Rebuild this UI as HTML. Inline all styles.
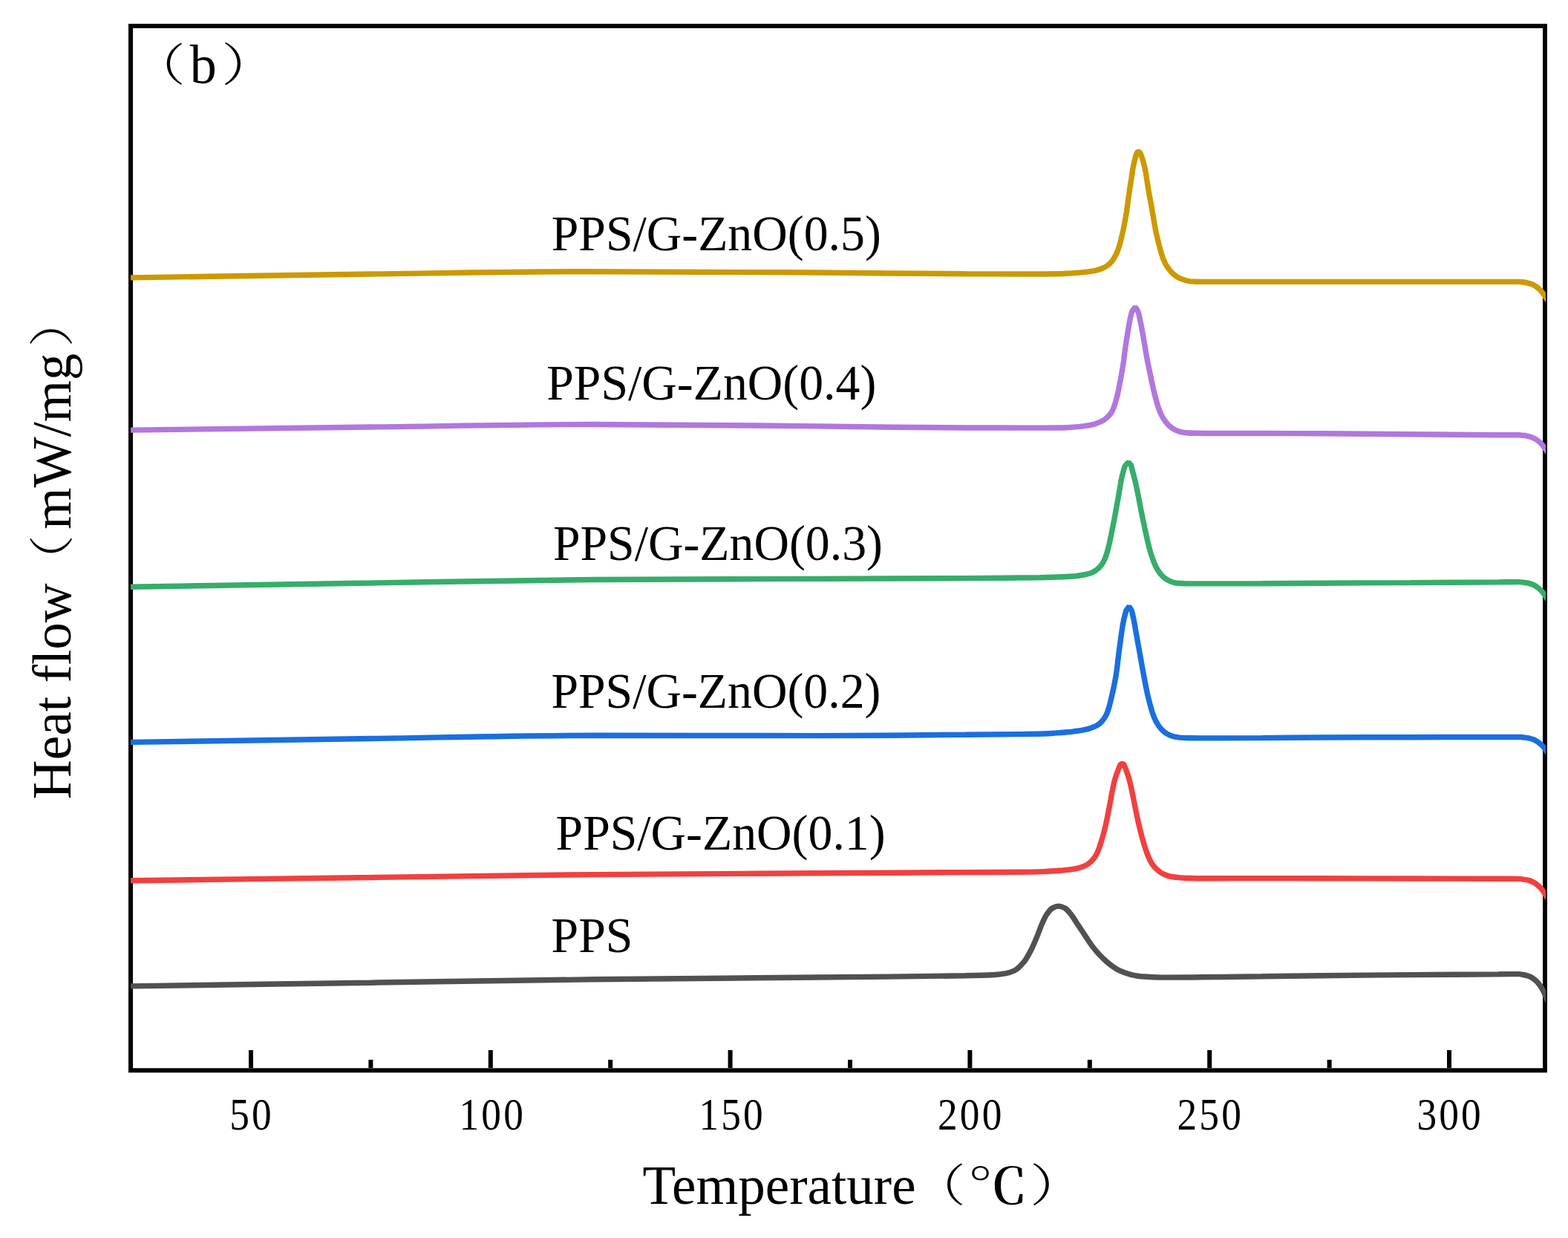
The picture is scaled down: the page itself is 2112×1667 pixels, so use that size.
<!DOCTYPE html>
<html lang="en"><head><meta charset="utf-8"><title>DSC heat flow curves</title>
<style>
html,body{margin:0;padding:0;background:#fff}
body{width:2112px;height:1667px;overflow:hidden}
svg{display:block}
text{fill:#000}
</style></head><body>
<svg xmlns="http://www.w3.org/2000/svg" width="2112" height="1667" viewBox="0 0 2112 1667">
<rect width="2112" height="1667" fill="#fff"/>
<rect x="176" y="35" width="1905" height="1406.3" fill="none" stroke="#000" stroke-width="6"/>
<path d="M338.0 1438V1414M660.8 1438V1414M983.6 1438V1414M1306.4 1438V1414M1629.2 1438V1414M1952.0 1438V1414M499.4 1438V1427M822.2 1438V1427M1145.0 1438V1427M1467.8 1438V1427M1790.6 1438V1427" stroke="#000" stroke-width="6" fill="none"/>
<clipPath id="plot"><rect x="176" y="38" width="1906" height="1400"/></clipPath>
<g fill="none" stroke-width="7.4" stroke-linejoin="bevel" stroke-linecap="butt" clip-path="url(#plot)">
<path stroke="#515151" d="M168.0 1328.0C170.7 1328.0 173.3 1327.9 176.0 1327.9C284.0 1326.3 392.0 1324.8 500.0 1323.2C600.0 1321.7 700.0 1319.9 800.0 1318.8C900.0 1317.7 1000.0 1317.0 1100.0 1316.0C1166.7 1315.3 1233.3 1315.0 1300.0 1313.8C1313.3 1313.6 1326.7 1313.3 1340.0 1312.5C1345.0 1312.2 1350.0 1311.5 1355.0 1310.6C1358.8 1309.9 1362.5 1308.8 1366.3 1307.0C1370.7 1304.9 1375.1 1300.2 1379.5 1294.9C1382.7 1291.1 1385.9 1284.9 1389.0 1278.8C1391.5 1273.9 1394.1 1267.8 1396.6 1261.7C1398.8 1256.4 1401.0 1249.7 1403.2 1244.7C1405.4 1239.7 1407.6 1234.6 1409.8 1231.4C1412.4 1227.8 1414.9 1224.2 1417.4 1222.9C1420.3 1221.4 1423.1 1220.1 1425.9 1220.1C1428.8 1220.1 1431.6 1221.5 1434.5 1222.9C1437.0 1224.2 1439.5 1227.5 1442.0 1230.5C1445.2 1234.3 1448.4 1240.0 1451.5 1244.7C1454.7 1249.4 1457.8 1254.2 1461.0 1258.9C1464.1 1263.6 1467.3 1268.9 1470.5 1273.1C1473.6 1277.3 1476.8 1281.0 1479.9 1284.5C1483.1 1287.9 1486.2 1291.1 1489.4 1293.9C1492.6 1296.7 1495.7 1299.4 1498.9 1301.5C1502.0 1303.7 1505.2 1305.8 1508.3 1307.2C1512.8 1309.2 1517.2 1310.8 1521.6 1311.9C1526.6 1313.2 1531.7 1314.4 1536.7 1314.8C1546.2 1315.5 1555.7 1316.1 1565.2 1316.1C1610.1 1316.1 1655.1 1315.3 1700.0 1314.8C1726.3 1314.5 1752.7 1314.0 1779.0 1313.7C1819.3 1313.2 1859.7 1312.9 1900.0 1312.6C1939.5 1312.3 1979.1 1312.1 2018.6 1311.8C2027.7 1311.7 2036.9 1311.6 2046.0 1311.6C2048.0 1311.6 2050.0 1312.1 2052.0 1312.5C2054.0 1312.9 2056.0 1313.4 2058.0 1314.0C2059.8 1314.6 2061.7 1315.4 2063.5 1316.5C2065.3 1317.5 2067.0 1318.9 2068.8 1320.6C2070.6 1322.2 2072.3 1324.3 2074.1 1326.7C2075.5 1328.7 2077.0 1331.1 2078.4 1333.8C2079.5 1335.9 2080.7 1338.4 2081.8 1341.0C2083.2 1344.2 2084.6 1347.8 2086.0 1351.6C2087.3 1355.2 2088.7 1359.0 2090.0 1363.0"/>
<path stroke="#F14040" d="M168.0 1185.9C170.7 1185.9 173.3 1185.8 176.0 1185.8C284.0 1184.4 392.0 1182.9 500.0 1181.5C600.0 1180.2 700.0 1178.4 800.0 1177.6C900.0 1176.8 1000.0 1176.4 1100.0 1175.8C1166.7 1175.4 1233.3 1175.0 1300.0 1174.6C1324.2 1174.5 1348.3 1174.4 1372.5 1174.2C1383.9 1174.2 1395.2 1174.0 1406.6 1173.6C1410.9 1173.5 1415.1 1173.1 1419.4 1172.8C1423.2 1172.6 1427.0 1172.3 1430.8 1172.0C1434.3 1171.6 1437.9 1171.3 1441.4 1170.8C1444.4 1170.4 1447.4 1170.0 1450.4 1169.3C1452.8 1168.8 1455.3 1168.2 1457.8 1167.3C1459.8 1166.6 1461.9 1165.6 1464.0 1164.4C1465.7 1163.4 1467.4 1162.1 1469.1 1160.6C1470.5 1159.3 1472.0 1157.7 1473.4 1155.8C1474.7 1154.2 1475.9 1152.2 1477.2 1149.8C1478.3 1147.5 1479.5 1144.4 1480.7 1141.2C1481.8 1138.1 1483.0 1134.4 1484.1 1130.6C1485.2 1127.1 1486.2 1123.3 1487.3 1119.2C1488.2 1115.6 1489.2 1111.5 1490.1 1107.2C1491.1 1102.9 1492.0 1098.0 1493.0 1093.1C1494.0 1087.9 1495.0 1082.2 1496.0 1076.8C1496.9 1071.7 1497.9 1066.3 1498.9 1061.7C1499.7 1057.8 1500.5 1053.9 1501.3 1051.0C1502.3 1047.1 1503.4 1044.2 1504.4 1041.3C1506.1 1036.5 1507.9 1032.2 1509.6 1028.7L1513.4 1028.7C1515.1 1032.2 1516.7 1036.6 1518.4 1041.3C1519.4 1044.2 1520.4 1047.3 1521.4 1051.0C1522.2 1054.0 1523.1 1057.9 1523.9 1061.7C1524.9 1066.4 1526.0 1071.7 1527.0 1076.8C1528.0 1081.7 1529.0 1087.0 1530.0 1091.9C1530.8 1095.8 1531.6 1099.7 1532.4 1103.4C1533.2 1107.2 1534.1 1110.8 1534.9 1114.2C1535.9 1118.2 1536.8 1122.0 1537.8 1125.6C1538.8 1129.6 1539.9 1133.4 1541.0 1136.9C1542.2 1140.7 1543.3 1144.4 1544.5 1147.6C1545.7 1150.8 1546.9 1153.9 1548.0 1156.4C1549.3 1159.1 1550.6 1161.4 1551.9 1163.3C1553.5 1165.6 1555.1 1167.5 1556.7 1169.2C1558.5 1171.0 1560.3 1172.7 1562.2 1174.0C1564.3 1175.4 1566.3 1176.6 1568.4 1177.5C1570.7 1178.5 1573.0 1179.3 1575.2 1179.8C1578.0 1180.4 1580.8 1180.9 1583.5 1181.2C1587.4 1181.7 1591.4 1182.1 1595.3 1182.2C1606.5 1182.5 1617.7 1182.7 1628.9 1182.7C1652.6 1182.7 1676.3 1182.6 1700.0 1182.6C1726.3 1182.6 1752.7 1182.7 1779.0 1182.7C1819.3 1182.8 1859.7 1182.9 1900.0 1183.0C1939.3 1183.1 1978.7 1183.2 2018.0 1183.3C2027.3 1183.3 2036.7 1183.3 2046.0 1183.4C2048.0 1183.4 2050.0 1183.8 2052.0 1184.1C2054.0 1184.3 2056.0 1184.7 2058.0 1185.2C2059.8 1185.6 2061.7 1186.2 2063.5 1187.0C2065.3 1187.7 2067.0 1188.8 2068.8 1190.0C2070.6 1191.3 2072.3 1192.8 2074.1 1194.6C2075.5 1196.1 2077.0 1197.9 2078.4 1199.9C2079.5 1201.4 2080.7 1203.3 2081.8 1205.2C2083.2 1207.5 2084.6 1209.9 2086.0 1212.4C2087.3 1214.7 2088.7 1217.1 2090.0 1219.6"/>
<path stroke="#1A6FDF" d="M168.0 999.5C170.7 999.5 173.3 999.4 176.0 999.4C284.0 997.8 392.0 996.1 500.0 994.5C600.0 993.0 700.0 990.3 800.0 990.3C900.0 990.3 1000.0 990.6 1100.0 990.6C1166.7 990.6 1233.3 989.9 1300.0 989.3C1326.2 989.1 1352.4 988.8 1378.6 988.5C1389.9 988.3 1401.1 988.1 1412.4 987.7C1416.2 987.6 1419.9 987.2 1423.7 986.9C1427.5 986.7 1431.3 986.4 1435.1 986.0C1438.9 985.7 1442.7 985.3 1446.5 984.8C1450.0 984.4 1453.6 983.9 1457.1 983.3C1460.1 982.8 1463.2 982.2 1466.2 981.4C1468.7 980.7 1471.3 979.8 1473.8 978.7C1476.0 977.8 1478.1 976.5 1480.2 975.0C1482.0 973.7 1483.7 972.0 1485.4 969.9C1486.7 968.4 1488.0 966.5 1489.3 964.1C1490.3 962.2 1491.3 959.7 1492.3 956.9C1493.3 954.2 1494.3 950.6 1495.2 946.9C1496.1 943.5 1497.0 939.5 1497.9 935.6C1498.8 932.0 1499.6 928.2 1500.4 924.2C1501.2 920.3 1502.0 916.4 1502.8 911.7C1503.4 907.9 1504.0 903.8 1504.7 898.9C1505.1 895.6 1505.5 891.4 1506.0 887.8C1506.4 884.2 1506.8 880.5 1507.2 877.2C1507.7 873.1 1508.3 869.6 1508.8 865.8C1509.3 862.1 1509.8 858.0 1510.3 854.5C1510.9 850.4 1511.5 846.4 1512.0 843.1C1512.8 838.9 1513.5 835.3 1514.2 832.1C1515.1 828.3 1516.0 824.8 1516.9 822.0L1521.0 816.5L1524.2 822.0C1525.0 825.0 1525.8 828.4 1526.6 832.1C1527.3 835.4 1528.0 839.2 1528.7 843.1C1529.3 846.7 1530.0 850.8 1530.7 854.5C1531.3 858.4 1532.0 862.0 1532.7 865.8C1533.4 869.6 1534.1 873.3 1534.8 877.2C1535.4 880.7 1536.0 884.3 1536.7 887.8C1537.3 891.5 1538.0 895.2 1538.6 898.9C1539.4 903.2 1540.2 907.6 1541.0 911.7C1541.8 916.0 1542.6 920.3 1543.4 924.2C1544.2 928.2 1545.0 932.0 1545.8 935.6C1546.7 939.6 1547.7 943.4 1548.6 946.9C1549.6 950.7 1550.6 954.4 1551.6 957.6C1552.7 960.9 1553.7 964.0 1554.8 966.5C1556.1 969.5 1557.3 972.0 1558.6 974.0C1560.1 976.6 1561.7 978.9 1563.2 980.6C1565.1 982.8 1566.9 984.6 1568.8 986.0C1570.8 987.5 1572.8 988.8 1574.9 989.7C1577.0 990.6 1579.1 991.4 1581.3 991.9C1583.8 992.4 1586.3 992.9 1588.8 993.1C1592.9 993.4 1597.0 993.7 1601.1 993.7C1612.2 993.8 1623.4 993.9 1634.5 993.9C1656.4 993.9 1678.2 993.7 1700.0 993.6C1726.3 993.5 1752.7 993.1 1779.0 993.0C1819.3 992.8 1859.7 992.8 1900.0 992.7C1939.3 992.6 1978.7 992.5 2018.0 992.5C2028.0 992.5 2038.0 992.5 2048.0 992.5C2050.0 992.5 2052.0 992.8 2054.0 993.1C2056.0 993.4 2058.0 993.7 2060.0 994.1C2061.8 994.6 2063.7 995.1 2065.5 995.8C2067.3 996.5 2069.0 997.5 2070.8 998.6C2072.6 999.8 2074.3 1001.2 2076.1 1002.9C2077.5 1004.2 2079.0 1005.9 2080.4 1007.7C2081.5 1009.1 2082.7 1010.9 2083.8 1012.6C2085.2 1014.7 2086.6 1017.0 2088.0 1019.2C2089.3 1021.4 2090.7 1023.6 2092.0 1025.9"/>
<path stroke="#37AD6B" d="M168.0 790.4C170.7 790.4 173.3 790.3 176.0 790.3C284.0 788.5 392.0 786.7 500.0 785.0C600.0 783.4 700.0 781.1 800.0 780.5C900.0 779.9 1000.0 779.8 1100.0 779.4C1166.7 779.1 1233.3 779.0 1300.0 778.6C1333.3 778.4 1366.7 778.2 1400.0 777.7C1410.7 777.5 1421.4 777.2 1432.1 776.7C1437.6 776.5 1443.0 776.2 1448.5 775.7C1451.2 775.4 1454.0 775.0 1456.7 774.5C1459.2 774.1 1461.7 773.7 1464.1 773.1C1466.3 772.6 1468.4 772.0 1470.6 771.1C1472.4 770.3 1474.2 769.2 1476.1 767.9C1477.7 766.9 1479.2 765.5 1480.8 764.0C1482.1 762.6 1483.4 761.1 1484.7 759.1C1485.8 757.4 1486.9 755.3 1488.1 752.7C1489.1 750.4 1490.1 747.4 1491.1 744.1C1492.0 741.0 1493.0 737.3 1493.9 733.4C1494.7 729.8 1495.6 725.4 1496.5 721.3C1497.2 717.7 1497.9 713.9 1498.7 710.2C1499.3 707.0 1499.9 704.0 1500.6 700.7C1501.4 696.7 1502.2 692.5 1502.9 688.2C1503.9 682.9 1504.9 677.4 1505.9 671.8C1506.8 666.9 1507.6 661.7 1508.5 656.7C1509.1 653.1 1509.7 649.0 1510.3 646.0C1511.0 642.6 1511.7 639.8 1512.4 637.2C1513.3 633.5 1514.3 630.1 1515.3 627.3L1520.0 622.4L1523.4 626.3C1524.3 629.8 1525.3 633.3 1526.2 637.0C1527.0 639.9 1527.8 642.8 1528.5 646.0C1529.4 649.3 1530.2 652.9 1531.0 656.7C1532.0 661.3 1533.0 666.7 1534.0 671.8C1535.0 677.2 1536.1 682.9 1537.1 688.2C1538.0 692.5 1538.8 696.7 1539.7 700.7C1540.4 704.0 1541.0 707.0 1541.7 710.2C1542.5 713.9 1543.3 717.7 1544.1 721.3C1545.0 725.5 1546.0 729.7 1546.9 733.4C1547.9 737.5 1549.0 741.4 1550.0 744.8C1551.2 748.8 1552.5 752.5 1553.7 755.6C1555.0 759.0 1556.4 762.2 1557.7 764.6C1559.2 767.3 1560.6 769.6 1562.1 771.4C1563.7 773.5 1565.3 775.3 1566.9 776.8C1568.7 778.4 1570.5 779.8 1572.3 780.8C1574.2 781.9 1576.2 782.7 1578.2 783.4C1580.1 784.1 1582.0 784.7 1584.0 785.0C1588.0 785.4 1591.9 785.7 1595.8 785.8C1608.0 785.9 1620.2 785.9 1632.4 785.9C1655.0 785.9 1677.5 785.8 1700.0 785.7C1726.3 785.6 1752.7 785.3 1779.0 785.2C1819.3 785.0 1859.7 784.8 1900.0 784.6C1939.3 784.4 1978.7 784.2 2018.0 783.9C2027.3 783.8 2036.7 783.6 2046.0 783.6C2048.0 783.6 2050.0 783.9 2052.0 784.2C2054.0 784.4 2056.0 784.8 2058.0 785.2C2059.8 785.6 2061.7 786.1 2063.5 786.8C2065.3 787.5 2067.0 788.4 2068.8 789.5C2070.6 790.6 2072.3 792.0 2074.1 793.6C2075.5 794.9 2077.0 796.5 2078.4 798.2C2079.5 799.6 2080.7 801.3 2081.8 803.0C2083.2 805.0 2084.6 807.2 2086.0 809.4C2087.3 811.5 2088.7 813.6 2090.0 815.8"/>
<path stroke="#B177DE" d="M168.0 579.2C170.7 579.2 173.3 579.1 176.0 579.1C284.0 577.7 392.0 576.3 500.0 575.0C600.0 573.8 700.0 571.5 800.0 571.5C900.0 571.5 1000.0 573.0 1100.0 573.9C1166.7 574.5 1233.3 575.9 1300.0 576.0C1328.7 576.0 1357.3 576.1 1386.0 576.1C1398.9 576.1 1411.7 576.1 1424.6 576.0C1428.9 576.0 1433.1 575.9 1437.4 575.7C1441.2 575.6 1445.0 575.3 1448.8 574.9C1452.3 574.6 1455.9 574.3 1459.4 573.8C1462.4 573.4 1465.4 572.9 1468.4 572.3C1470.9 571.9 1473.4 571.3 1475.9 570.5C1478.2 569.8 1480.5 568.9 1482.7 567.8C1484.8 566.8 1486.8 565.6 1488.8 564.1C1490.5 562.8 1492.2 561.3 1493.9 559.4C1495.2 558.0 1496.5 556.3 1497.8 554.0C1498.8 552.2 1499.8 549.7 1500.8 546.9C1501.8 544.2 1502.8 540.6 1503.8 536.9C1504.7 533.6 1505.6 529.7 1506.5 525.6C1507.2 522.1 1508.0 518.1 1508.7 514.2C1509.4 510.7 1510.0 507.2 1510.7 503.5C1511.2 500.4 1511.8 497.6 1512.3 494.1C1512.8 491.3 1513.2 488.1 1513.7 484.8C1514.1 481.5 1514.6 477.6 1515.0 474.2C1515.5 470.2 1516.0 466.3 1516.6 462.8C1517.2 458.7 1517.8 455.2 1518.4 451.5C1519.0 447.6 1519.7 443.8 1520.3 440.1C1521.0 436.5 1521.6 432.6 1522.2 429.6C1522.9 426.2 1523.6 423.2 1524.3 420.7L1525.9 417.5L1529.0 413.6L1532.0 417.5L1533.5 421.3C1534.2 424.0 1534.8 426.8 1535.4 429.7C1536.1 433.0 1536.8 436.5 1537.5 440.1C1538.2 443.7 1538.9 447.5 1539.6 451.5C1540.2 455.1 1540.9 459.0 1541.5 462.8C1542.1 466.6 1542.8 470.6 1543.4 474.2C1544.0 477.9 1544.7 481.5 1545.3 484.8C1546.0 488.1 1546.6 491.1 1547.2 494.1C1547.9 497.3 1548.5 500.3 1549.2 503.5C1549.9 507.0 1550.7 510.7 1551.4 514.2C1552.3 518.1 1553.1 522.0 1553.9 525.6C1554.9 529.6 1555.8 533.5 1556.8 536.9C1557.8 540.8 1558.9 544.4 1559.9 547.6C1561.1 550.9 1562.2 554.0 1563.3 556.5C1564.6 559.5 1566.0 562.0 1567.3 564.0C1569.0 566.6 1570.6 568.8 1572.2 570.6C1574.1 572.6 1576.0 574.4 1577.9 575.8C1580.0 577.2 1582.0 578.5 1584.0 579.4C1586.2 580.3 1588.3 581.1 1590.4 581.6C1592.8 582.1 1595.3 582.6 1597.7 582.8C1601.7 583.1 1605.8 583.3 1609.9 583.3C1620.4 583.4 1631.0 583.5 1641.5 583.5C1661.0 583.5 1680.5 583.5 1700.0 583.5C1726.3 583.5 1752.7 583.7 1779.0 583.8C1819.3 584.0 1859.7 584.4 1900.0 584.7C1939.3 585.0 1978.7 585.7 2018.0 585.7C2027.3 585.7 2036.7 585.7 2046.0 585.7C2048.0 585.7 2050.0 586.0 2052.0 586.3C2054.0 586.5 2056.0 586.9 2058.0 587.3C2059.8 587.7 2061.7 588.2 2063.5 588.9C2065.3 589.5 2067.0 590.5 2068.8 591.6C2070.6 592.7 2072.3 594.0 2074.1 595.6C2075.5 596.9 2077.0 598.5 2078.4 600.3C2079.5 601.7 2080.7 603.4 2081.8 605.0C2083.2 607.0 2084.6 609.2 2086.0 611.4C2087.3 613.4 2088.7 615.6 2090.0 617.7"/>
<path stroke="#CC9900" d="M168.0 374.0C170.7 374.0 173.3 373.9 176.0 373.9C284.0 372.3 392.0 370.4 500.0 369.0C600.0 367.7 700.0 365.7 800.0 365.7C900.0 365.7 1000.0 366.4 1100.0 367.0C1166.7 367.4 1233.3 368.6 1300.0 368.8C1329.2 368.9 1358.4 369.0 1387.6 369.0C1399.9 369.0 1412.1 368.9 1424.4 368.8C1428.2 368.8 1431.9 368.5 1435.7 368.3C1439.5 368.1 1443.3 367.9 1447.1 367.6C1450.9 367.3 1454.7 367.0 1458.5 366.6C1462.0 366.3 1465.6 365.9 1469.1 365.4C1472.1 364.9 1475.2 364.3 1478.2 363.6C1480.7 362.9 1483.3 362.0 1485.8 360.9C1488.0 360.0 1490.1 358.7 1492.2 357.1C1494.0 355.9 1495.7 354.1 1497.4 352.1C1498.7 350.5 1500.0 348.5 1501.3 346.3C1502.4 344.4 1503.5 342.3 1504.6 339.8C1505.6 337.4 1506.6 334.5 1507.6 331.2C1508.5 328.2 1509.5 324.5 1510.4 320.6C1511.3 317.1 1512.1 313.2 1513.0 309.2C1513.8 305.4 1514.6 301.3 1515.4 297.0C1516.1 293.1 1516.8 289.2 1517.6 284.6C1518.0 281.4 1518.5 277.6 1519.0 273.8C1519.5 270.4 1519.9 266.4 1520.4 263.2C1521.0 259.0 1521.5 255.6 1522.1 251.8C1522.7 248.0 1523.3 244.4 1523.9 240.5C1524.4 236.9 1525.0 232.8 1525.5 229.6C1526.1 226.4 1526.6 223.4 1527.1 220.9C1527.5 218.9 1528.0 217.1 1528.4 215.5L1530.4 207.8L1533.0 203.4L1536.0 206.2L1538.4 212.7C1539.1 214.5 1539.7 216.8 1540.4 219.3C1541.1 222.1 1541.8 225.4 1542.6 229.1C1543.2 232.4 1543.9 236.5 1544.5 240.5C1545.1 244.1 1545.7 248.2 1546.3 251.8C1546.9 255.8 1547.6 259.5 1548.2 263.2C1548.9 266.8 1549.6 270.2 1550.2 273.8C1550.9 277.3 1551.5 280.9 1552.1 284.6C1552.8 288.6 1553.5 293.1 1554.2 297.0C1554.9 301.3 1555.7 305.5 1556.4 309.2C1557.3 313.4 1558.1 317.0 1559.0 320.6C1559.9 324.6 1560.8 328.4 1561.8 331.9C1562.7 335.7 1563.7 339.5 1564.7 342.6C1565.8 346.0 1566.9 349.1 1568.0 351.5C1569.3 354.5 1570.7 357.0 1572.1 359.1C1573.8 361.7 1575.5 363.9 1577.2 365.7C1579.2 367.9 1581.3 369.8 1583.3 371.3C1585.5 372.9 1587.8 374.2 1590.0 375.2C1592.3 376.2 1594.5 377.0 1596.8 377.5C1599.1 378.1 1601.4 378.7 1603.8 378.9C1608.0 379.2 1612.2 379.4 1616.4 379.4C1626.9 379.4 1637.3 379.4 1647.8 379.4C1665.2 379.4 1682.6 379.4 1700.0 379.4C1726.3 379.4 1752.7 379.4 1779.0 379.4C1819.3 379.4 1859.7 379.4 1900.0 379.4C1939.3 379.4 1978.7 379.4 2018.0 379.4C2027.3 379.4 2036.7 379.4 2046.0 379.4C2048.0 379.4 2050.0 379.8 2052.0 380.0C2054.0 380.3 2056.0 380.6 2058.0 381.1C2059.8 381.5 2061.7 382.1 2063.5 382.8C2065.3 383.5 2067.0 384.6 2068.8 385.7C2070.6 386.9 2072.3 388.4 2074.1 390.1C2075.5 391.4 2077.0 393.2 2078.4 395.0C2079.5 396.5 2080.7 398.3 2081.8 400.1C2083.2 402.3 2084.6 404.6 2086.0 406.9C2087.3 409.2 2088.7 411.4 2090.0 413.8"/>
</g>
<text transform="translate(309.14 1521.29) scale(0.8900 1.0160)" style='font-family:"Liberation Serif",serif;font-size:60px;letter-spacing:3.5px'>50</text>
<text transform="translate(618.55 1521.29) scale(0.8900 1.0160)" style='font-family:"Liberation Serif",serif;font-size:60px;letter-spacing:3.5px'>100</text>
<text transform="translate(941.45 1521.29) scale(0.8900 1.0160)" style='font-family:"Liberation Serif",serif;font-size:60px;letter-spacing:3.5px'>150</text>
<text transform="translate(1263.06 1521.29) scale(0.8900 1.0160)" style='font-family:"Liberation Serif",serif;font-size:60px;letter-spacing:3.5px'>200</text>
<text transform="translate(1585.56 1521.29) scale(0.8900 1.0160)" style='font-family:"Liberation Serif",serif;font-size:60px;letter-spacing:3.5px'>250</text>
<text transform="translate(1908.50 1521.29) scale(0.8900 1.0160)" style='font-family:"Liberation Serif",serif;font-size:60px;letter-spacing:3.5px'>300</text>
<text transform="translate(742.74 336.80) scale(0.9968 1.0110)" style='font-family:"Liberation Serif",serif;font-size:66px'>PPS/G-ZnO(0.5)</text>
<text transform="translate(736.29 537.70) scale(0.9968 1.0110)" style='font-family:"Liberation Serif",serif;font-size:66px'>PPS/G-ZnO(0.4)</text>
<text transform="translate(744.89 753.90) scale(0.9968 1.0110)" style='font-family:"Liberation Serif",serif;font-size:66px'>PPS/G-ZnO(0.3)</text>
<text transform="translate(742.39 952.80) scale(0.9968 1.0110)" style='font-family:"Liberation Serif",serif;font-size:66px'>PPS/G-ZnO(0.2)</text>
<text transform="translate(748.59 1143.70) scale(0.9968 1.0110)" style='font-family:"Liberation Serif",serif;font-size:66px'>PPS/G-ZnO(0.1)</text>
<text transform="translate(742.57 1281.60) scale(0.9968 1.0110)" style='font-family:"Liberation Serif",serif;font-size:66px'>PPS</text>
<text transform="translate(865.55 1620.60) scale(1.0008 1.0178)" style='font-family:"Liberation Serif",serif;font-size:73px'>Temperature</text>
<text transform="translate(1229.65 1618.02) scale(0.9707 0.8294)" style='font-family:"Noto Serif CJK SC","Liberation Serif",serif;font-size:73px;font-weight:300'>（</text>
<text transform="translate(1303.46 1621.07) scale(1.1131 0.9053)" style='font-family:"Noto Serif CJK SC","Liberation Serif",serif;font-size:73px;font-weight:500'>℃</text>
<text transform="translate(1387.20 1617.79) scale(1.0098 0.8338)" style='font-family:"Noto Serif CJK SC","Liberation Serif",serif;font-size:73px;font-weight:300'>）</text>
<text transform="translate(95.10 1076.31) rotate(-90) scale(1.0045 1.0262)" style='font-family:"Liberation Serif",serif;font-size:73px'>Heat flow</text>
<text transform="translate(91.89 789.49) rotate(-90) scale(0.9463 0.8338)" style='font-family:"Noto Serif CJK SC","Liberation Serif",serif;font-size:73px;font-weight:300'>（</text>
<text transform="translate(94.64 712.69) rotate(-90) scale(0.9901 1.0260)" style='font-family:"Liberation Serif",serif;font-size:73px'>mW/mg</text>
<text transform="translate(91.89 467.20) rotate(-90) scale(0.9463 0.8338)" style='font-family:"Noto Serif CJK SC","Liberation Serif",serif;font-size:73px;font-weight:300'>）</text>
<text transform="translate(177.85 108.83) scale(0.9854 0.8265)" style='font-family:"Noto Serif CJK SC","Liberation Serif",serif;font-size:73px;font-weight:300'>（</text>
<text transform="translate(255.80 112.24) scale(0.9867 1.0136)" style='font-family:"Liberation Serif",serif;font-size:73px'>b</text>
<text transform="translate(298.16 108.74) scale(1.0195 0.8412)" style='font-family:"Noto Serif CJK SC","Liberation Serif",serif;font-size:73px;font-weight:300'>）</text>
</svg>
</body></html>
